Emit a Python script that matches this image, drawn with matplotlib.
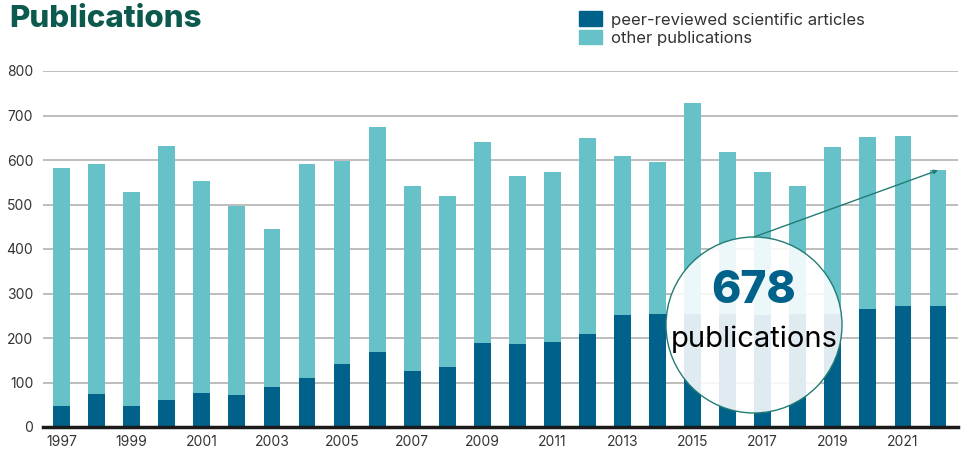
import matplotlib
matplotlib.use("Agg")
import matplotlib.pyplot as plt
from matplotlib.patches import Ellipse, Patch

plt.rcParams["font.family"] = ["Inter", "DejaVu Sans"]

years = list(range(1997, 2023))
peer_reviewed = [47, 74, 47, 60, 76, 71, 91, 109, 141, 168, 125, 134, 188, 186,
                 190, 210, 251, 255, 255, 255, 252, 255, 255, 266, 273, 273]
totals = [581, 590, 529, 631, 552, 496, 444, 592, 597, 674, 541, 520, 640, 563,
          574, 649, 608, 595, 729, 617, 574, 541, 630, 651, 655, 577]
other = [t - p for t, p in zip(totals, peer_reviewed)]
tick_years = years[::2]
y_ticks = [0, 100, 200, 300, 400, 500, 600, 700, 800]

dark = "#00618a"
light = "#66c1c9"
title_green = "#0b5a4d"
text_col = "#333333"

fig = plt.figure(figsize=(9.71, 4.53), dpi=100)
ax = fig.add_axes([43 / 971, 26 / 453, 915 / 971, 356 / 453])

ax.bar(years, peer_reviewed, width=0.48, color=dark, zorder=2)
ax.bar(years, other, bottom=peer_reviewed, width=0.48, color=light, zorder=2)

ax.set_xlim(1996.47, 2022.57)
ax.set_ylim(0, 800)
ax.set_yticks(y_ticks)
ax.set_xticks(tick_years)
ax.tick_params(length=0, labelsize=10, colors=text_col, pad=6)
ax.tick_params(axis="y", pad=7)
ax.grid(axis="y", color="#b8b8b8", linewidth=1.3, zorder=0)
for s in ["top", "right", "left"]:
    ax.spines[s].set_visible(False)
ax.spines["bottom"].set_color("#1a1a1a")
ax.spines["bottom"].set_linewidth(2.5)
ax.spines["bottom"].set_zorder(3)

# title
fig.text(9 / 971, 1 - 19 / 453, "Publications", fontsize=22.5, fontweight="heavy",
         color=title_green, va="center", ha="left")

# legend
handles = [Patch(color=dark, label="peer-reviewed scientific articles"),
           Patch(color=light, label="other publications")]
fig.legend(handles=handles, loc="upper left", bbox_to_anchor=(564 / 971, 1.008),
           frameon=False, fontsize=12, handlelength=1.35, handleheight=1.0,
           handletextpad=0.55, labelspacing=0.12, labelcolor=text_col)

# callout circle
cx, cy = (754 - 43) / 915, (427 - 325) / 356
w, h = 176 / 915, 176 / 356
ax.add_patch(Ellipse((cx, cy), w, h, transform=ax.transAxes, facecolor="white",
                     alpha=0.88, edgecolor="none", zorder=4))
ax.add_patch(Ellipse((cx, cy), w, h, transform=ax.transAxes, facecolor="none",
                     edgecolor="#237c74", linewidth=1.0, zorder=5))
ax.annotate("", xy=(years[-1], totals[-1]), xycoords="data",
            xytext=(cx, cy + h / 2), textcoords="axes fraction",
            arrowprops=dict(arrowstyle="-|>", color="#237c74", lw=1.0,
                            mutation_scale=6, shrinkA=0, shrinkB=0), zorder=5)
ax.text(cx, cy + 0.095, "678", transform=ax.transAxes, fontsize=32,
        fontweight="heavy", color=dark, ha="center", va="center", zorder=6)
ax.text(cx, cy - 0.04, "publications", transform=ax.transAxes, fontsize=21,
        color="black", ha="center", va="center", zorder=6)

plt.savefig("out.png", dpi=100)
plt.close()
